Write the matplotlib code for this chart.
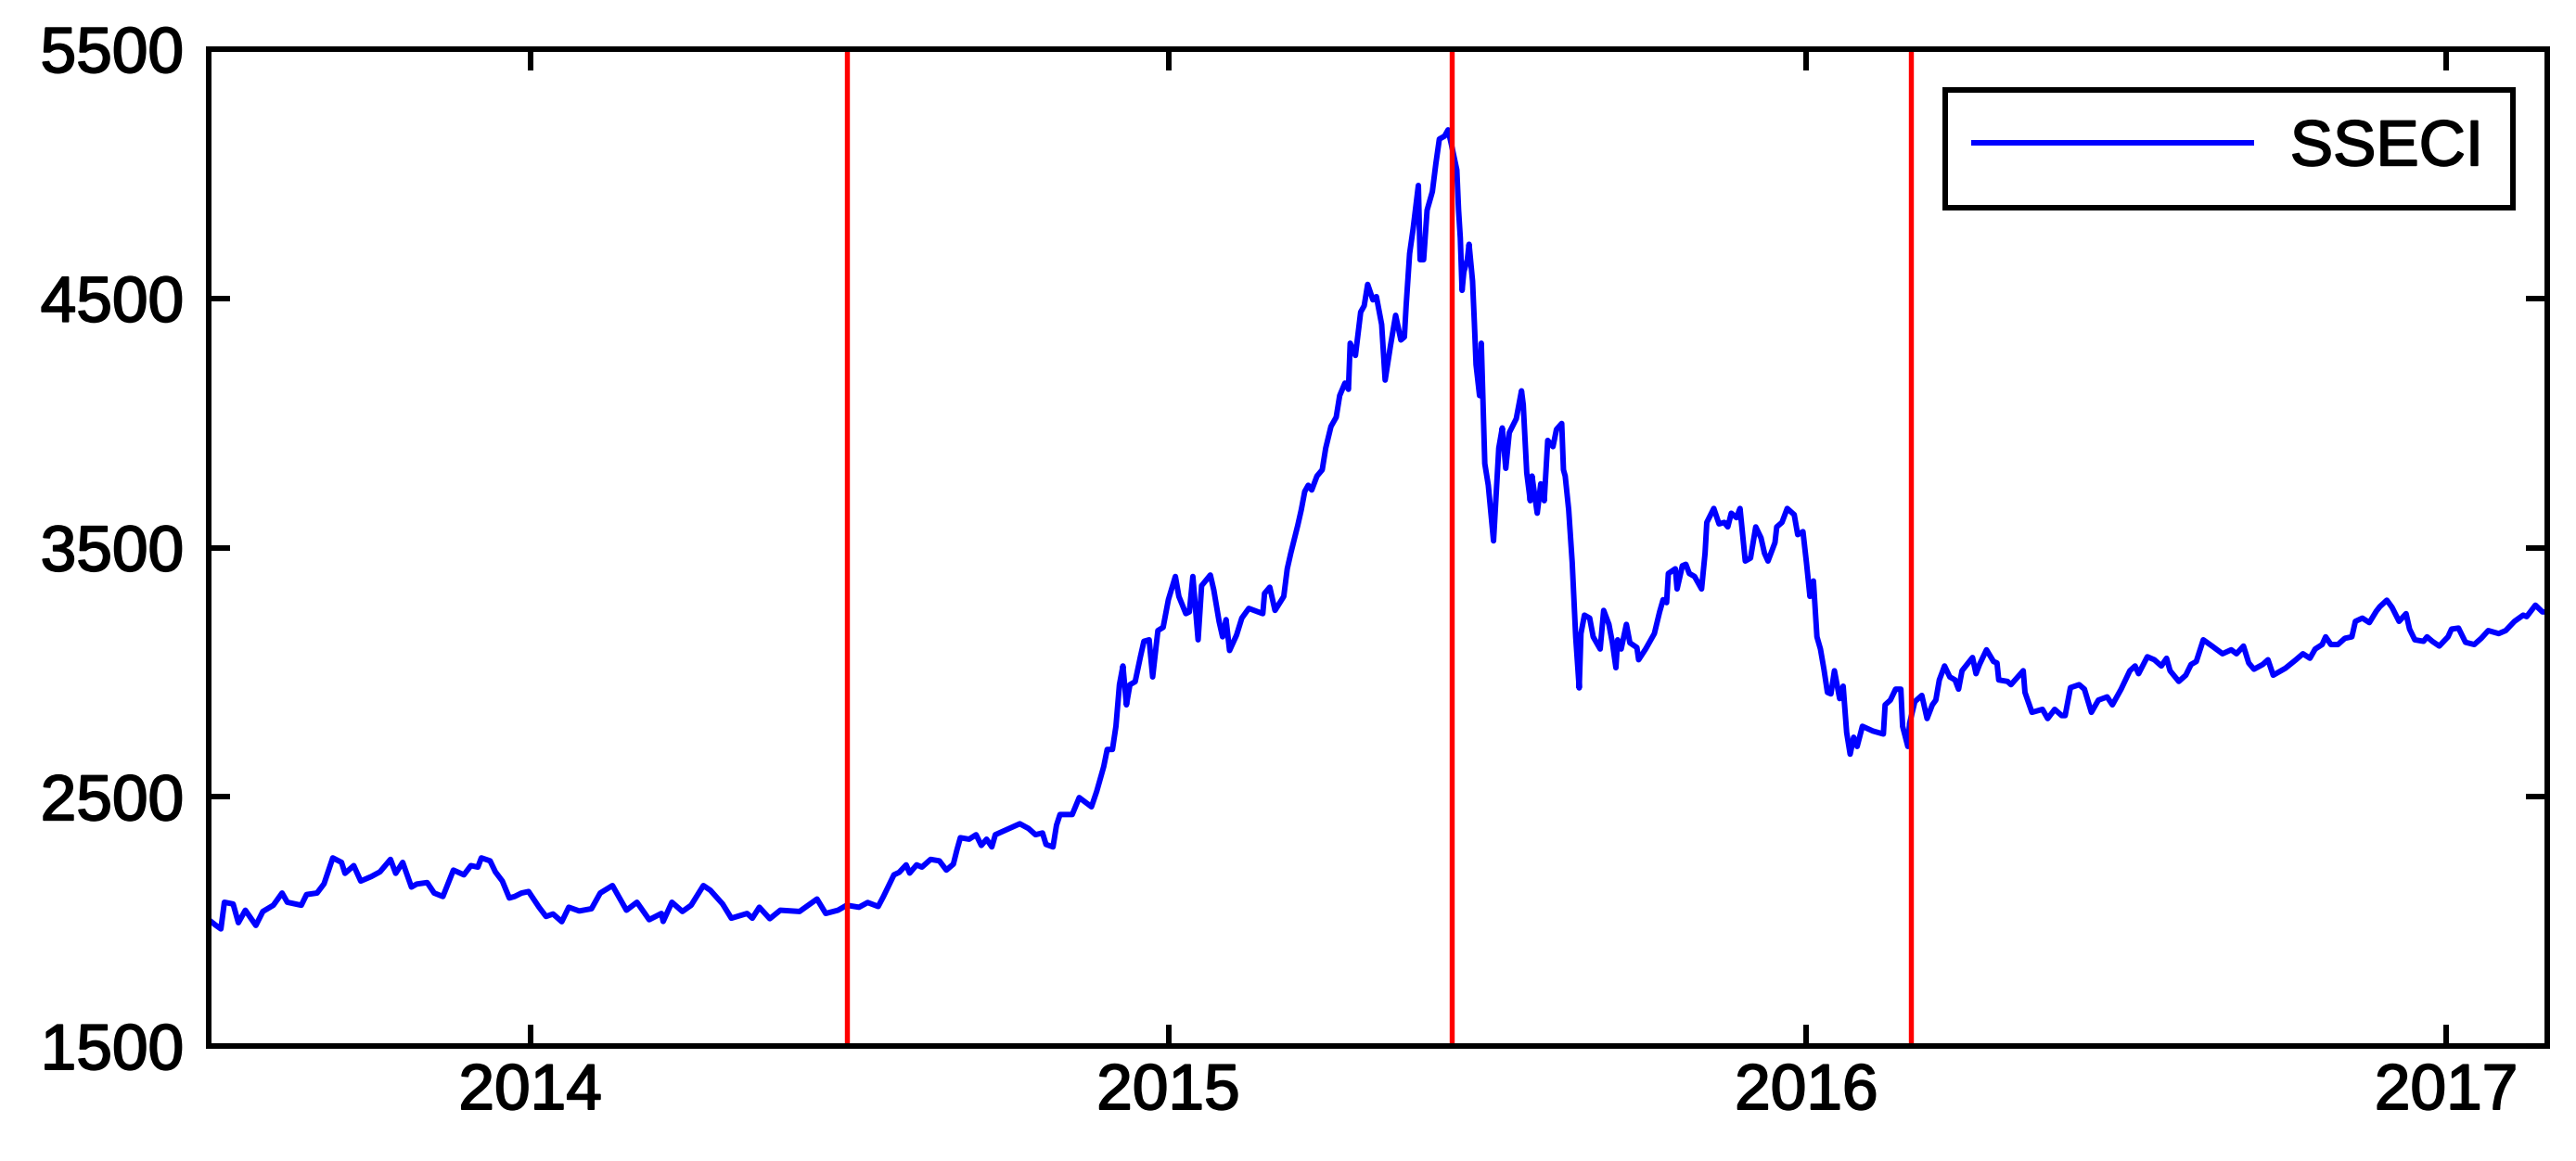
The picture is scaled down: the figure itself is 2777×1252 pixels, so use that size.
import pandas as pd
import matplotlib
matplotlib.use("Agg")
import matplotlib.pyplot as plt
import matplotlib.patheffects as pe

plt.rcParams["font.family"] = ["Liberation Sans", "DejaVu Sans"]

# SSECI closes (approximate)
dates = [
    "2013-07-01", "2013-07-05", "2013-07-08", "2013-07-10", "2013-07-15", "2013-07-18",
    "2013-07-22", "2013-07-28", "2013-08-01", "2013-08-07", "2013-08-12", "2013-08-15",
    "2013-08-23", "2013-08-26", "2013-09-01", "2013-09-05", "2013-09-10", "2013-09-15",
    "2013-09-17", "2013-09-22", "2013-09-26", "2013-10-02", "2013-10-07", "2013-10-13",
    "2013-10-16", "2013-10-20", "2013-10-25", "2013-10-28", "2013-11-03", "2013-11-07",
    "2013-11-12", "2013-11-18", "2013-11-24", "2013-11-28", "2013-12-02", "2013-12-04",
    "2013-12-09", "2013-12-12", "2013-12-16", "2013-12-20", "2013-12-23", "2013-12-27",
    "2013-12-31", "2014-01-06", "2014-01-10", "2014-01-14", "2014-01-19", "2014-01-23",
    "2014-01-29", "2014-02-05", "2014-02-10", "2014-02-17", "2014-02-25", "2014-03-03",
    "2014-03-10", "2014-03-17", "2014-03-18", "2014-03-23", "2014-03-29", "2014-04-03",
    "2014-04-10", "2014-04-14", "2014-04-21", "2014-04-26", "2014-05-05", "2014-05-08",
    "2014-05-12", "2014-05-18", "2014-05-24", "2014-06-04", "2014-06-14", "2014-06-19",
    "2014-06-26", "2014-07-01", "2014-07-08", "2014-07-13", "2014-07-19", "2014-07-22",
    "2014-07-28", "2014-07-31", "2014-08-04", "2014-08-06", "2014-08-10", "2014-08-13",
    "2014-08-18", "2014-08-23", "2014-08-27", "2014-08-31", "2014-09-02", "2014-09-04",
    "2014-09-09", "2014-09-13", "2014-09-16", "2014-09-19", "2014-09-22", "2014-09-24",
    "2014-09-30", "2014-10-08", "2014-10-13", "2014-10-17", "2014-10-21", "2014-10-23",
    "2014-10-27", "2014-10-29", "2014-10-31", "2014-11-07", "2014-11-11", "2014-11-18",
    "2014-11-21", "2014-11-25", "2014-11-27", "2014-11-30", "2014-12-02", "2014-12-04",
    "2014-12-06", "2014-12-08", "2014-12-10", "2014-12-13", "2014-12-16", "2014-12-18",
    "2014-12-21", "2014-12-23", "2014-12-26", "2014-12-29", "2015-01-01", "2015-01-05",
    "2015-01-07", "2015-01-11", "2015-01-13", "2015-01-15", "2015-01-18", "2015-01-20",
    "2015-01-25", "2015-01-27", "2015-01-30", "2015-02-01", "2015-02-03", "2015-02-05",
    "2015-02-09", "2015-02-12", "2015-02-16", "2015-02-24", "2015-02-25", "2015-02-28",
    "2015-03-03", "2015-03-08", "2015-03-10", "2015-03-12", "2015-03-16", "2015-03-18",
    "2015-03-20", "2015-03-22", "2015-03-24", "2015-03-27", "2015-03-30", "2015-04-01",
    "2015-04-04", "2015-04-07", "2015-04-09", "2015-04-12", "2015-04-14", "2015-04-15",
    "2015-04-18", "2015-04-21", "2015-04-23", "2015-04-25", "2015-04-28", "2015-04-30",
    "2015-05-03", "2015-05-05", "2015-05-08", "2015-05-11", "2015-05-14", "2015-05-16",
    "2015-05-17", "2015-05-19", "2015-05-21", "2015-05-24", "2015-05-25", "2015-05-27",
    "2015-05-29", "2015-06-01", "2015-06-03", "2015-06-05", "2015-06-08", "2015-06-10",
    "2015-06-12", "2015-06-15", "2015-06-16", "2015-06-17", "2015-06-18", "2015-06-19",
    "2015-06-21", "2015-06-22", "2015-06-24", "2015-06-25", "2015-06-26", "2015-06-28",
    "2015-06-29", "2015-06-30", "2015-07-01", "2015-07-03", "2015-07-06", "2015-07-09",
    "2015-07-11", "2015-07-13", "2015-07-15", "2015-07-19", "2015-07-22", "2015-07-23",
    "2015-07-25", "2015-07-27", "2015-07-28", "2015-07-31", "2015-08-02", "2015-08-04",
    "2015-08-06", "2015-08-09", "2015-08-11", "2015-08-14", "2015-08-15", "2015-08-16",
    "2015-08-18", "2015-08-20", "2015-08-22", "2015-08-24", "2015-08-25", "2015-08-27",
    "2015-08-30", "2015-09-01", "2015-09-05", "2015-09-07", "2015-09-10", "2015-09-12",
    "2015-09-14", "2015-09-15", "2015-09-17", "2015-09-20", "2015-09-22", "2015-09-26",
    "2015-09-27", "2015-10-01", "2015-10-06", "2015-10-09", "2015-10-11", "2015-10-13",
    "2015-10-14", "2015-10-18", "2015-10-19", "2015-10-22", "2015-10-24", "2015-10-26",
    "2015-10-29", "2015-11-02", "2015-11-04", "2015-11-05", "2015-11-09", "2015-11-12",
    "2015-11-15", "2015-11-17", "2015-11-19", "2015-11-22", "2015-11-24", "2015-11-27",
    "2015-11-30", "2015-12-03", "2015-12-06", "2015-12-08", "2015-12-10", "2015-12-14",
    "2015-12-15", "2015-12-18", "2015-12-21", "2015-12-25", "2015-12-27", "2015-12-30",
    "2016-01-01", "2016-01-03", "2016-01-05", "2016-01-07", "2016-01-09", "2016-01-11",
    "2016-01-13", "2016-01-15", "2016-01-17", "2016-01-20", "2016-01-22", "2016-01-24",
    "2016-01-26", "2016-01-28", "2016-01-30", "2016-02-02", "2016-02-08", "2016-02-14",
    "2016-02-15", "2016-02-18", "2016-02-21", "2016-02-24", "2016-02-25", "2016-02-28",
    "2016-02-29", "2016-03-03", "2016-03-07", "2016-03-10", "2016-03-13", "2016-03-15",
    "2016-03-17", "2016-03-20", "2016-03-23", "2016-03-26", "2016-03-28", "2016-03-30",
    "2016-04-05", "2016-04-07", "2016-04-09", "2016-04-13", "2016-04-17", "2016-04-19",
    "2016-04-20", "2016-04-25", "2016-04-27", "2016-05-04", "2016-05-05", "2016-05-09",
    "2016-05-15", "2016-05-18", "2016-05-22", "2016-05-26", "2016-05-28", "2016-05-31",
    "2016-06-05", "2016-06-08", "2016-06-12", "2016-06-16", "2016-06-21", "2016-06-24",
    "2016-06-29", "2016-07-04", "2016-07-07", "2016-07-09", "2016-07-14", "2016-07-18",
    "2016-07-22", "2016-07-25", "2016-07-27", "2016-08-01", "2016-08-05", "2016-08-08",
    "2016-08-11", "2016-08-15", "2016-08-20", "2016-08-26", "2016-08-31", "2016-09-03",
    "2016-09-07", "2016-09-10", "2016-09-13", "2016-09-18", "2016-09-21", "2016-09-24",
    "2016-10-01", "2016-10-07", "2016-10-11", "2016-10-15", "2016-10-18", "2016-10-22",
    "2016-10-24", "2016-10-27", "2016-10-31", "2016-11-04", "2016-11-08", "2016-11-10",
    "2016-11-14", "2016-11-18", "2016-11-22", "2016-11-24", "2016-11-28", "2016-12-01",
    "2016-12-05", "2016-12-09", "2016-12-11", "2016-12-14", "2016-12-19", "2016-12-21",
    "2016-12-24", "2016-12-28", "2017-01-02", "2017-01-04", "2017-01-08", "2017-01-12",
    "2017-01-17", "2017-01-21", "2017-01-25", "2017-01-31", "2017-02-04", "2017-02-09",
    "2017-02-14", "2017-02-16", "2017-02-21", "2017-02-25", "2017-02-28",
]
sseci = [
    2007, 1985, 1970, 2077, 2070, 1995,
    2045, 1984, 2040, 2065, 2114, 2077,
    2065, 2108, 2114, 2151, 2255, 2237,
    2193, 2224, 2162, 2180, 2199, 2249,
    2193, 2237, 2138, 2150, 2156, 2114,
    2100, 2206, 2187, 2224, 2218, 2255,
    2243, 2199, 2162, 2094, 2100, 2114,
    2120, 2057, 2020, 2030, 1999, 2057,
    2042, 2051, 2114, 2144, 2045, 2077,
    2007, 2032, 2000, 2077, 2040, 2065,
    2144, 2125, 2070, 2013, 2032, 2013,
    2057, 2011, 2045, 2040, 2090, 2032,
    2045, 2065, 2057, 2076, 2060, 2100,
    2187, 2197, 2227, 2194, 2227, 2218,
    2249, 2243, 2206, 2230, 2286, 2336,
    2330, 2348, 2305, 2330, 2299, 2348,
    2367, 2392, 2373, 2348, 2355, 2309,
    2299, 2386, 2429, 2429, 2497, 2460,
    2522, 2621, 2690, 2690, 2783, 2950,
    3025, 2869, 2950, 2962, 3062, 3124,
    3130, 2981, 3167, 3180, 3291, 3384,
    3304, 3235, 3242, 3384, 3130, 3347,
    3390, 3329, 3204, 3142, 3211, 3087,
    3149, 3217, 3256, 3235, 3316, 3341,
    3248, 3304, 3415, 3477, 3589, 3651,
    3725, 3750, 3731, 3787, 3812, 3899,
    3986, 4023, 4110, 4160, 4135, 4320,
    4271, 4445, 4470, 4556, 4494, 4507,
    4395, 4172, 4308, 4432, 4333, 4345,
    4470, 4680, 4779, 4953, 4655, 4655,
    4854, 4928, 5040, 5139, 5151, 5176,
    5114, 5015, 4854, 4742, 4532, 4606,
    4655, 4717, 4569, 4408, 4234, 4110,
    4320, 4085, 3837, 3750, 3527, 3899,
    3980, 3818, 3961, 4017, 4129, 4073,
    3800, 3688, 3787, 3638, 3756, 3688,
    3930, 3905, 3974, 3998, 3812, 3787,
    3651, 3440, 3142, 2937, 3155, 3229,
    3217, 3142, 3093, 3248, 3192, 3118,
    3018, 3130, 3093, 3192, 3118, 3099,
    3050, 3093, 3155, 3242, 3291, 3279,
    3396, 3415, 3334, 3427, 3433, 3396,
    3384, 3334, 3477, 3601, 3657, 3595,
    3601, 3583, 3638, 3620, 3657, 3446,
    3458, 3583, 3539, 3477, 3446, 3520,
    3583, 3601, 3657, 3632, 3552, 3564,
    3440, 3304, 3366, 3142, 3093, 3012,
    2919, 2913, 3006, 2894, 2944, 2758,
    2671, 2739, 2702, 2783, 2764, 2752,
    2869, 2888, 2932, 2932, 2783, 2702,
    2795, 2882, 2907, 2814, 2869, 2888,
    2969, 3025, 2981, 2969, 2932, 3006,
    3059, 2994, 3031, 3090, 3043, 3037,
    2969, 2963, 2950, 3006, 2919, 2839,
    2851, 2814, 2851, 2826, 2826, 2938,
    2950, 2932, 2839, 2888, 2901, 2869,
    2932, 3006, 3025, 2994, 3062, 3050,
    3025, 3056, 3006, 2963, 2988, 3031,
    3043, 3130, 3105, 3074, 3090, 3074,
    3105, 3037, 3012, 3031, 3050, 2988,
    3016, 3050, 3074, 3056, 3093, 3111,
    3142, 3111, 3111, 3136, 3142, 3204,
    3217, 3199, 3245, 3263, 3289, 3260,
    3204, 3235, 3173, 3130, 3124, 3142,
    3124, 3105, 3142, 3173, 3177, 3120,
    3111, 3136, 3167, 3155, 3167, 3204,
    3229, 3223, 3269, 3242, 3242,
]

break_dates = ["2014-07-01", "2015-06-12", "2016-03-01"]
year_ticks = ["2014-01-01", "2015-01-01", "2016-01-01", "2017-01-01"]
year_labels = ["2014", "2015", "2016", "2017"]
y_ticks = [1500, 2500, 3500, 4500, 5500]

x = pd.to_datetime(dates)

fig = plt.figure(figsize=(27.77, 12.52), dpi=100)
ax = fig.add_axes([0.081, 0.099, 0.908, 0.8587])

ax.plot(x, sseci, color="#0000ff", linewidth=4.3, label="SSECI")
for d in break_dates:
    ax.axvline(pd.Timestamp(d), color="#ff0000", linewidth=3.9)

ax.set_xlim(pd.Timestamp("2013-07-01"), pd.Timestamp("2017-02-28"))
ax.set_ylim(1500, 5500)
ax.set_yticks(y_ticks)
ax.set_xticks(pd.to_datetime(year_ticks))
ax.set_xticklabels(year_labels)

for s in ax.spines.values():
    s.set_linewidth(4.3)
ax.tick_params(direction="in", top=True, right=True, length=16.5, width=4.3,
               labelsize=50)
ax.tick_params(axis="x", pad=13)
ax.tick_params(axis="y", pad=19)

# slightly heavier glyphs, like the reference
bold = [pe.withStroke(linewidth=1.3, foreground="black")]
for t in ax.get_xticklabels() + ax.get_yticklabels():
    t.set_path_effects(bold)

leg = ax.legend(loc="upper right", bbox_to_anchor=(0.985, 0.959),
                borderaxespad=0, fontsize=50, handlelength=4.3,
                handletextpad=0.6, borderpad=0.45, fancybox=False,
                framealpha=1, edgecolor="black")
leg.get_frame().set_linewidth(4.3)
leg.get_lines()[0].set_linewidth(4.3)
for t in leg.get_texts():
    t.set_path_effects(bold)

fig.savefig("out.png", dpi=100)
